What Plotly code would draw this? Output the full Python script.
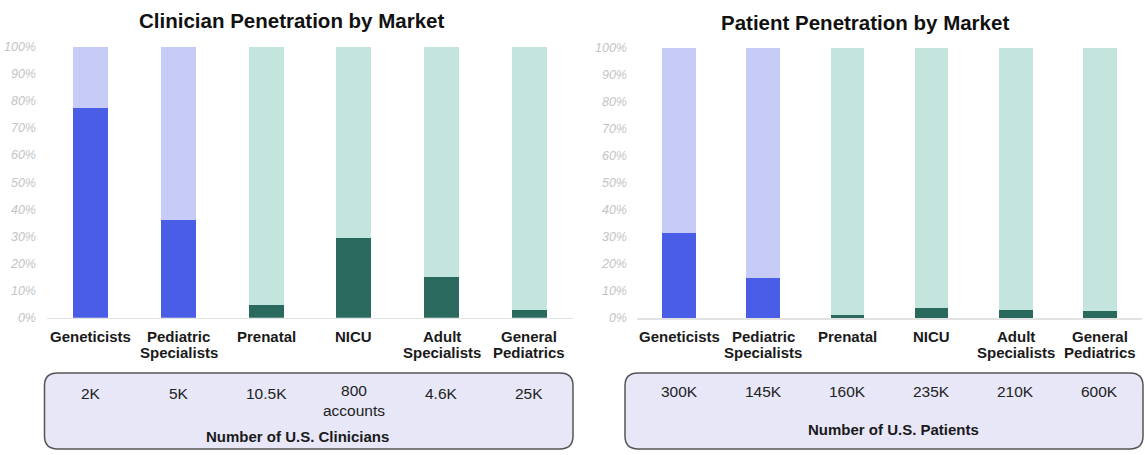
import plotly.graph_objects as go

W, H = 1145, 455

categories = ["Geneticists", "Pediatric<br>Specialists", "Prenatal", "NICU",
              "Adult<br>Specialists", "General<br>Pediatrics"]
clinician_pen = [0.775, 0.36, 0.045, 0.293, 0.149, 0.029]
patient_pen = [0.315, 0.149, 0.012, 0.036, 0.030, 0.027]
clinician_counts = ["2K", "5K", "10.5K", "800<br>accounts", "4.6K", "25K"]
patient_counts = ["300K", "145K", "160K", "235K", "210K", "600K"]
group = ["blue", "blue", "green", "green", "green", "green"]

DARK = {"blue": "#4a5de6", "green": "#2a6a5e"}
LIGHT = {"blue": "#c6ccf6", "green": "#c3e5dd"}
FONT = "Arial, Liberation Sans, sans-serif"

def px(x):
    return x / W

def py(y):
    return 1 - y / H

xs = list(range(len(categories)))

fig = go.Figure()
for vals, xa, ya in [(clinician_pen, "x", "y"), (patient_pen, "x2", "y2")]:
    fig.add_trace(go.Bar(x=xs, y=vals, xaxis=xa, yaxis=ya, width=0.4,
                         marker=dict(color=[DARK[g] for g in group], line=dict(width=0)),
                         showlegend=False, hoverinfo="skip"))
    fig.add_trace(go.Bar(x=xs, y=[1 - v for v in vals], xaxis=xa, yaxis=ya, width=0.4,
                         marker=dict(color=[LIGHT[g] for g in group], line=dict(width=0)),
                         showlegend=False, hoverinfo="skip"))

xcommon = dict(range=[-0.5, 5.5], tickmode="array", tickvals=xs, showticklabels=False,
               showgrid=False, zeroline=False, showline=True, linecolor="#e2e2e2",
               linewidth=1.5, ticks="")
ycommon = dict(range=[0, 1], tickformat=".0%", dtick=0.1, showgrid=False, zeroline=False,
               showline=False, ticks="",
               tickfont=dict(family=FONT, size=12.5, color="#c4c4c4", style="italic"))

fig.update_layout(
    width=W, height=H, margin=dict(l=0, r=0, t=0, b=0),
    paper_bgcolor="white", plot_bgcolor="white", barmode="stack", bargap=0,
    xaxis=dict(domain=[px(47), px(573)], anchor="y", **xcommon),
    yaxis=dict(domain=[py(320.5), py(41)], anchor="x", ticklabelstandoff=10, **ycommon),
    xaxis2=dict(domain=[px(637), px(1142)], anchor="y2", **xcommon),
    yaxis2=dict(domain=[py(321), py(42.3)], anchor="x2", ticklabelstandoff=9, **ycommon),
)

# category labels (one annotation per text line, positioned on the category axis)
for xa in ["x", "x2"]:
    for i, cat in enumerate(categories):
        for j, line in enumerate(cat.split("<br>")):
            fig.add_annotation(text=f"<b>{line}</b>", xref=xa, yref="paper", x=xs[i],
                               y=py(340 + 16.7 * j), showarrow=False, xanchor="center",
                               yanchor="middle",
                               font=dict(family=FONT, size=15, color="#1a1a1a"))

def rounded_rect(x0, y0, x1, y1, r):
    rx, ry = r / W, r / H
    X0, X1 = px(x0), px(x1)
    Y0, Y1 = py(y0), py(y1)  # Y0 top, Y1 bottom
    return (f"M {X0+rx},{Y0} L {X1-rx},{Y0} Q {X1},{Y0} {X1},{Y0-ry} "
            f"L {X1},{Y1+ry} Q {X1},{Y1} {X1-rx},{Y1} "
            f"L {X0+rx},{Y1} Q {X0},{Y1} {X0},{Y1+ry} "
            f"L {X0},{Y0-ry} Q {X0},{Y0} {X0+rx},{Y0} Z")

for (x0, x1) in [(44.5, 573), (625, 1143)]:
    fig.add_shape(type="path", xref="paper", yref="paper",
                  path=rounded_rect(x0, 377.5, x1, 456, 13),
                  fillcolor="#e7e7f8", line=dict(color="#555555", width=1.5), layer="below")

# titles
fig.add_annotation(text="<b>Clinician Penetration by Market</b>", xref="paper", yref="paper",
                   x=px(291), y=py(14), showarrow=False, xanchor="center", yanchor="middle",
                   font=dict(family=FONT, size=20.5, color="#111111"))
fig.add_annotation(text="<b>Patient Penetration by Market</b>", xref="paper", yref="paper",
                   x=px(865), y=py(16), showarrow=False, xanchor="center", yanchor="middle",
                   font=dict(family=FONT, size=20.5, color="#111111"))

# counts in boxes
for i, t in enumerate(clinician_counts):
    yc = 406.5 if "<br>" in t else 399
    fig.add_annotation(text=t, xref="x", yref="paper", x=xs[i], y=py(yc), showarrow=False,
                       xanchor="center", yanchor="middle",
                       font=dict(family=FONT, size=15.5, color="#222222"))
for i, t in enumerate(patient_counts):
    fig.add_annotation(text=t, xref="x2", yref="paper", x=xs[i], y=py(397), showarrow=False,
                       xanchor="center", yanchor="middle",
                       font=dict(family=FONT, size=15.5, color="#222222"))

fig.add_annotation(text="<b>Number of U.S. Clinicians</b>", xref="paper", yref="paper",
                   x=px(298), y=py(443), showarrow=False, xanchor="center", yanchor="middle",
                   font=dict(family=FONT, size=15, color="#1a1a1a"))
fig.add_annotation(text="<b>Number of U.S. Patients</b>", xref="paper", yref="paper",
                   x=px(893), y=py(436), showarrow=False, xanchor="center", yanchor="middle",
                   font=dict(family=FONT, size=15, color="#1a1a1a"))

fig.write_html("out.html", config={"displayModeBar": False, "staticPlot": True},
               post_script="document.body.style.margin='0';document.body.style.overflow='hidden';")
